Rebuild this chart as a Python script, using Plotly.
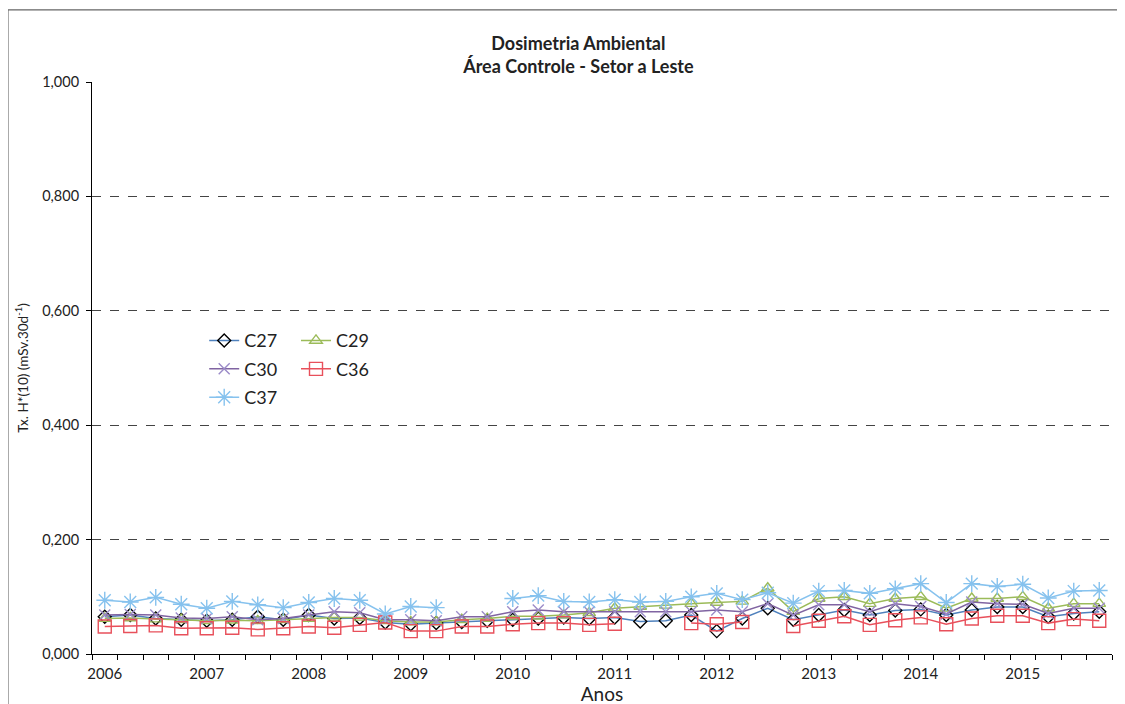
import plotly.graph_objects as go

years = ["2006", "2007", "2008", "2009", "2010", "2011", "2012", "2013", "2014", "2015"]
quarters = [f"{y}-T{q}" for y in years for q in range(1, 5)]

c27 = [0.065, 0.068, 0.062, 0.060, 0.058, 0.060, 0.065, 0.060, 0.068, 0.062,
       0.063, 0.055, 0.052, 0.054, 0.056, 0.058, 0.060, 0.062, 0.064, 0.062,
       0.064, 0.057, 0.058, 0.068, 0.040, 0.062, 0.080, 0.060, 0.068, 0.077,
       0.068, 0.076, 0.078, 0.068, 0.077, 0.082, 0.082, 0.065, 0.071, 0.074]
c29 = [0.062, 0.063, 0.061, 0.060, 0.058, 0.059, 0.058, 0.060, 0.062, 0.064,
       0.064, 0.058, 0.056, 0.056, 0.060, 0.062, 0.066, 0.066, 0.068, 0.072,
       0.080, 0.083, 0.085, 0.088, 0.090, 0.092, 0.115, 0.074, 0.097, 0.100,
       0.088, 0.097, 0.100, 0.080, 0.097, 0.097, 0.100, 0.080, 0.088, 0.088]
c30 = [0.068, 0.069, 0.068, 0.063, 0.062, 0.065, 0.060, 0.062, 0.068, 0.074,
       0.072, 0.060, 0.060, 0.058, 0.065, 0.065, 0.074, 0.077, 0.074, 0.074,
       0.074, 0.074, 0.074, 0.074, 0.077, 0.074, 0.088, 0.068, 0.086, 0.086,
       0.074, 0.088, 0.083, 0.070, 0.091, 0.088, 0.087, 0.071, 0.080, 0.080]
c36 = [0.048, 0.049, 0.050, 0.045, 0.045, 0.046, 0.043, 0.045, 0.048, 0.046,
       0.051, 0.055, 0.040, 0.040, 0.048, 0.048, 0.052, 0.054, 0.054, 0.051,
       0.053, None, None, 0.054, 0.052, 0.056, None, 0.049, 0.058, 0.066,
       0.051, 0.059, 0.064, 0.052, 0.062, 0.067, 0.067, 0.054, 0.061, 0.058]
c37 = [0.094, 0.091, 0.099, 0.087, 0.080, 0.092, 0.086, 0.081, 0.090, 0.097,
       0.094, 0.070, 0.083, 0.081, None, None, 0.097, 0.102, 0.092, 0.091,
       0.095, 0.091, 0.092, 0.100, 0.106, 0.095, 0.107, 0.089, 0.110, 0.111,
       0.106, 0.114, 0.123, 0.090, 0.123, 0.118, 0.122, 0.098, 0.110, 0.111]

x = list(range(len(quarters)))
FONT = "Lato"

series = [
    ("C27", c27, "#4F81BD", "diamond-open", "#000000", 10, "legend"),
    ("C29", c29, "#9BBB59", "triangle-up-open", "#9BBB59", 11, "legend2"),
    ("C30", c30, "#8064A2", "x-thin-open", "#9B8BC8", 11, "legend"),
    ("C36", c36, "#E8505B", "square-open", "#E8505B", 13, "legend2"),
    ("C37", c37, "#86C2EE", "asterisk-open", "#86C2EE", 14, "legend"),
]

fig = go.Figure()
for name, vals, lc, sym, mc, ms, lg in series:
    fig.add_trace(go.Scatter(
        x=x, y=vals, name=name, mode="lines+markers",
        line=dict(color=lc, width=1.5),
        marker=dict(symbol=sym, size=ms, color=mc, line=dict(color=mc, width=1.4)),
        legend=lg, legendgroup=name, customdata=quarters,
    ))

fig.update_layout(
    width=1125, height=704,
    paper_bgcolor="white", plot_bgcolor="white",
    margin=dict(l=84, r=21, t=74, b=58),
    separators=",.",
    font=dict(family=FONT, color="#222"),
    title=dict(
        text="<b>Dosimetria Ambiental<br>Área Controle - Setor a Leste</b>",
        x=0.507, xanchor="center", y=0.941, yanchor="top",
        font=dict(size=18, family=FONT, color="#222"),
    ),
    legend=dict(x=0.11, y=0.58, xanchor="left", yanchor="top",
                font=dict(size=18, family=FONT, color="#222"),
                bgcolor="rgba(0,0,0,0)", tracegroupgap=2),
    legend2=dict(x=0.2, y=0.58, xanchor="left", yanchor="top",
                 font=dict(size=18, family=FONT, color="#222"),
                 bgcolor="rgba(0,0,0,0)", tracegroupgap=2),
    xaxis=dict(
        range=[-0.5, len(quarters) - 0.5],
        tickmode="array", tickvals=x[::4], ticktext=years,
        ticks="", showgrid=False, zeroline=False,
        showline=True, linecolor="#000", linewidth=1,
        ticklabelstandoff=6,
        tickfont=dict(size=15, family=FONT, color="#222"),
        minor=dict(ticks="outside", tick0=-0.5, dtick=1, ticklen=5,
                   tickcolor="#000", showgrid=False),
        title=dict(text="Anos", font=dict(size=19, family=FONT, color="#222"), standoff=0),
    ),
    yaxis=dict(
        range=[0, 1.0], dtick=0.2, tickformat=".3f",
        ticks="outside", ticklen=5, tickcolor="#000",
        showgrid=True, gridcolor="#444", griddash="dash", gridwidth=1,
        zeroline=False, showline=True, linecolor="#000", linewidth=1,
        ticklabelstandoff=4,
        tickfont=dict(size=14.5, family=FONT, color="#222"),
        title=dict(text="Tx. H*(10) (mSv.30d<sup>-1</sup>)",
                   font=dict(size=13.5, family=FONT, color="#222"), standoff=10),
    ),
    shapes=[dict(type="rect", xref="paper", yref="paper",
                 x0=-0.0824, x1=1.0095, y0=-0.09, y1=1.126,
                 line=dict(color="#666", width=1.2), fillcolor="rgba(0,0,0,0)")],
)

fig.write_html("out.html")
